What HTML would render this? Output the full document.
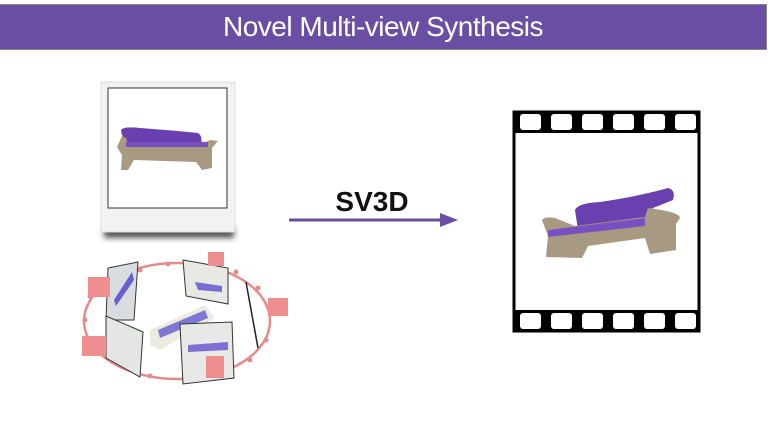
<!DOCTYPE html>
<html><head><meta charset="utf-8"><style>
html,body{margin:0;padding:0;background:#fff;}
body{width:770px;height:433px;position:relative;overflow:hidden;font-family:"Liberation Sans",sans-serif;}
.hdr{position:absolute;left:0;top:4px;width:766px;height:44px;background:#6a4ea3;border:1px solid #888;border-left:none;color:#fff;font-size:28px;text-align:center;line-height:44px;letter-spacing:-0.5px;}
</style></head><body>
<div class="hdr">Novel Multi-view Synthesis</div>
<svg width="770" height="433" style="position:absolute;left:0;top:0">
<defs>
<filter id="sh" x="-20%" y="-20%" width="140%" height="160%"><feGaussianBlur stdDeviation="3"/></filter>
</defs>
<!-- polaroid -->
<rect x="104" y="226" width="130" height="12" fill="#555" filter="url(#sh)"/>
<rect x="101" y="82" width="134" height="150" fill="#f2f2f2" stroke="#ddd"/>
<rect x="108" y="88" width="119" height="120" fill="#fff" stroke="#333"/>
<path d="M121 130 Q124 126 140 128 Q180 131 198 133 Q203 136 201 146 L130 144 Q122 140 121 130Z" fill="#6a3fb0"/>
<path d="M117 147 L122 136 L126 138 L128 143 L200 145 L210 140 L218 141 L212 148 L212 168 L202 170 L196 162 L134 160 L128 170 L121 170 L122 155Z" fill="#a89a80"/>
<rect x="126" y="142" width="82" height="5" fill="#7a4fc0"/>
<!-- arrow -->
<text x="372" y="211" font-size="28" font-weight="bold" text-anchor="middle" fill="#111">SV3D</text>
<line x1="289" y1="220" x2="442" y2="220" stroke="#6a4ea3" stroke-width="3"/>
<polygon points="440,213 458,220 440,227" fill="#6a4ea3"/>
<!-- film strip -->
<rect x="514" y="112" width="185" height="219" fill="#fff" stroke="#000" stroke-width="3"/>
<rect x="513" y="111" width="187" height="22" fill="#000"/>
<rect x="513" y="310" width="187" height="22" fill="#000"/>
<g fill="#fff">
<rect x="520" y="114" width="21" height="16" rx="3"/><rect x="551" y="114" width="21" height="16" rx="3"/><rect x="582" y="114" width="21" height="16" rx="3"/><rect x="613" y="114" width="21" height="16" rx="3"/><rect x="644" y="114" width="21" height="16" rx="3"/><rect x="675" y="114" width="21" height="16" rx="3"/>
<rect x="520" y="313" width="21" height="16" rx="3"/><rect x="551" y="313" width="21" height="16" rx="3"/><rect x="582" y="313" width="21" height="16" rx="3"/><rect x="613" y="313" width="21" height="16" rx="3"/><rect x="644" y="313" width="21" height="16" rx="3"/><rect x="675" y="313" width="21" height="16" rx="3"/>
</g>
<path d="M575 210 Q578 203 600 202 Q640 196 668 188 Q676 190 673 200 L648 210 L645 222 L578 230Z" fill="#6a3fb0"/>
<path d="M542 220 Q545 216 555 218 L575 226 L645 217 L648 208 Q680 212 680 218 L676 224 L676 250 L650 254 L645 238 L588 246 L582 258 L546 257 L548 236 Z" fill="#a89a80"/>
<path d="M548 230 L645 218 L645 226 L548 237Z" fill="#7a4fc0"/>
<!-- camera ring -->
<ellipse cx="177" cy="321" rx="93" ry="58" fill="none" stroke="#e88a8a" stroke-width="2.5"/>
<g fill="#e88a8a">
<circle cx="140" cy="270" r="2.5"/><circle cx="168" cy="264" r="2.5"/><circle cx="236" cy="272" r="2.5"/><circle cx="258" cy="288" r="2.5"/><circle cx="90" cy="296" r="2.5"/><circle cx="85" cy="320" r="2.5"/><circle cx="123" cy="366" r="2.5"/><circle cx="150" cy="376" r="2.5"/><circle cx="250" cy="360" r="2.5"/><circle cx="266" cy="340" r="2.5"/>
</g>
<polygon points="108,268 138,262 134,320 106,320" fill="#d8dde0" stroke="#333"/>
<path d="M114 300 L132 272 L134 280 L116 306Z" fill="#6a5ed0"/>
<polygon points="183,260 228,268 228,304 186,296" fill="#e8e8e4" stroke="#333"/>
<path d="M195 282 L222 286 L222 292 L198 290Z" fill="#7a6fd0"/>
<polygon points="106,316 143,332 140,377 106,358" fill="#e4e6e4" stroke="#333"/>
<line x1="246" y1="282" x2="258" y2="348" stroke="#222" stroke-width="1.5"/>
<path d="M150 330 L205 305 L215 318 L160 350 L150 345Z" fill="#ecebdf"/>
<path d="M158 330 L205 310 L208 318 L160 338Z" fill="#7f77d8"/>
<polygon points="180,324 232,322 234,378 183,384" fill="#e8e8e6" stroke="#333"/>
<path d="M188 345 L228 342 L228 350 L188 352Z" fill="#7f6fd0"/>
<g fill="#ee8e8e">
<rect x="88" y="277" width="22" height="20"/><rect x="208" y="252" width="16" height="14"/>
<rect x="268" y="298" width="20" height="18"/><rect x="82" y="336" width="24" height="20"/>
<rect x="206" y="356" width="18" height="22"/>
</g>
</svg>
</body></html>
